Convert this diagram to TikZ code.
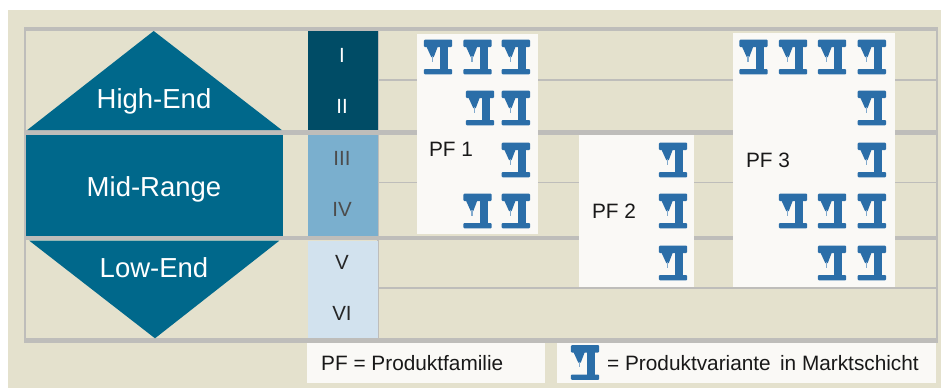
\documentclass[tikz,border=0pt]{standalone}
\usepackage{fontspec}
\setmainfont{Liberation Sans}
\definecolor{sandbg}{RGB}{228,225,205}
\definecolor{gridgray}{RGB}{190,189,186}
\definecolor{pyramid}{RGB}{0,104,139}
\definecolor{layerA}{RGB}{0,76,102}
\definecolor{layerB}{RGB}{122,175,206}
\definecolor{layerC}{RGB}{210,226,238}
\definecolor{panel}{RGB}{250,249,246}
\definecolor{iconblue}{RGB}{43,110,168}
\definecolor{iconpale}{RGB}{130,170,205}
\tikzset{
    segment/.style={fill=pyramid,text=white,font=\fontsize{27.5}{30}\selectfont},
    layerlabel/.style={font=\fontsize{20.5}{24}\selectfont,inner sep=0pt},
    pflabel/.style={font=\fontsize{20.8}{24}\selectfont,inner sep=0pt,text=black!90},
    heavyline/.style={draw=gridgray,line width=4.5pt},
    thinline/.style={draw=gridgray,line width=1.5pt},
    variant/.pic={
        \fill[iconblue,rounded corners=1pt] (-14.2,-17.3) rectangle (14.2,-10);
        \fill[iconblue] (2,-11) rectangle (10.2,12.5);
        \fill[iconblue,rounded corners=1pt] (-14.2,12) rectangle (14.2,17.3);
        \fill[iconblue] (-11.8,-11) -- (0,-11) -- (-4.2,0) -- (-6.8,0) -- cycle;
        \fill[iconpale] (-6.2,-1) rectangle (-4.8,4.5);
    }
}
\begin{document}
\begin{tikzpicture}[x=1pt,y=-1pt]
    \useasboundingbox (0,0) rectangle (941,388);
    \fill[sandbg] (8,10) rectangle (941,388);

    % grid lines
    \draw[thinline] (378,80) -- (936,80);
    \draw[thinline] (378,182.5) -- (936,182.5);
    \draw[thinline] (378,288) -- (936,288);
    \draw[thinline] (378,29) -- (378,340);
    \draw[gridgray,line width=2pt] (25,29) -- (25,340);
    \draw[gridgray,line width=2pt] (937,29) -- (937,340);
    \draw[heavyline] (24,29) -- (938,29);
    \draw[heavyline] (24,132.5) -- (938,132.5);
    \draw[heavyline] (24,238) -- (938,238);
    \draw[heavyline] (24,340.5) -- (938,340.5);

    % market segments
    \fill[segment] (27.3,130) -- (153.7,31) -- (281.7,130) -- cycle;
    \fill[segment] (25.7,135) rectangle (283.3,235.7);
    \fill[segment] (29.3,240.7) -- (279.3,240.7) -- (155,338.3) -- cycle;
    \node[segment,fill=none,inner sep=0pt] (highend) at (154,101) {High-End};
    \node[segment,fill=none,inner sep=0pt] (midrange) at (154,189) {Mid-Range};
    \node[segment,fill=none,inner sep=0pt] (lowend) at (154,268) {Low-End};

    % layers
    \fill[layerA] (308.3,31) rectangle (377.7,130);
    \fill[layerB] (308.3,135) rectangle (377.7,235.7);
    \fill[layerC] (308.3,240.7) rectangle (377.7,338.3);
    \node[layerlabel,text=white] (l1) at (342,55) {I};
    \node[layerlabel,text=white] (l2) at (342,106) {II};
    \node[layerlabel,text=black!70] (l3) at (342,158) {III};
    \node[layerlabel,text=black!70] (l4) at (342,209) {IV};
    \node[layerlabel,text=black!85] (l5) at (342,262) {V};
    \node[layerlabel,text=black!85] (l6) at (342,313) {VI};

    % product families
    \fill[panel] (416.7,33.5) rectangle (537.7,234);
    \fill[panel] (579,135) rectangle (694,286.7);
    \fill[panel] (733,33) rectangle (894.7,286.7);
    \node[pflabel] (pf1) at (451,149) {PF 1};
    \node[pflabel] (pf2) at (614,211) {PF 2};
    \node[pflabel] (pf3) at (768,160) {PF 3};

    \foreach \x/\y in {438/57,477.5/57,515.8/57,480/108,515.8/108,515.8/160,477.5/211,515.8/211,
                       673/160,673/211,673/263,
                       753.5/57,793/57,832/57,871.8/57,871.8/108,871.8/160,
                       793/211,832/211,871.8/211,832/263,871.8/263}
        \pic at (\x,\y) {variant};

    % legend
    \fill[panel] (307,343.3) rectangle (545,382.7);
    \fill[panel] (557.3,343.3) rectangle (936,382.7);
    \node[pflabel,anchor=west] (legendpf) at (321,363) {PF = Produktfamilie};
    \pic at (585,362.5) {variant};
    \node[pflabel,anchor=west] (legendvar) at (607,363) {= Produktvariante\, in Marktschicht};
\end{tikzpicture}
\end{document}
